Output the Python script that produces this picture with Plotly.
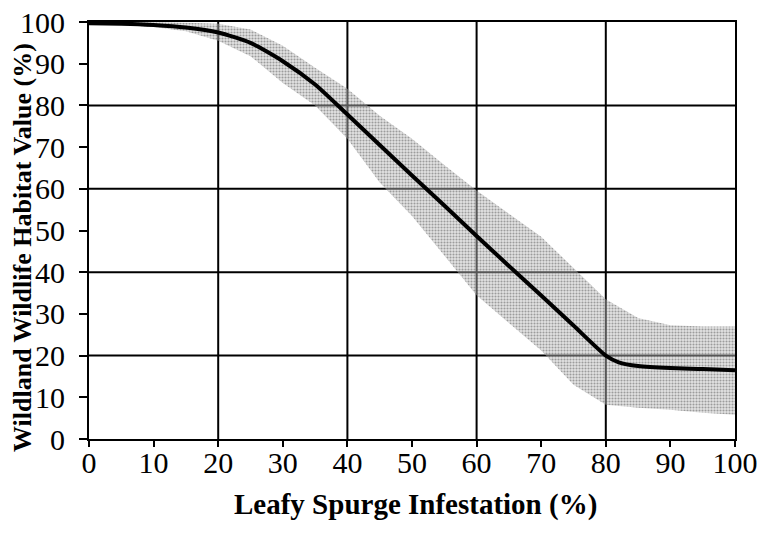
import plotly.graph_objects as go

# Leafy spurge infestation (%) -> habitat value (%)
infestation = [0, 5, 10, 15, 20, 25, 30, 35, 40, 45, 50, 55, 60, 65, 70, 75, 80, 82, 85, 90, 95, 100]
habitat_value = [99.7, 99.6, 99.3, 98.7, 97.5, 95.0, 90.6, 85.0, 77.8, 70.5, 63.2, 56.0, 48.7, 41.5, 34.4, 27.2, 20.0, 18.4, 17.5, 17.0, 16.8, 16.5]

band_x = [0, 5, 10, 15, 20, 25, 30, 35, 40, 45, 50, 55, 60, 65, 70, 75, 80, 85, 90, 95, 100]
band_upper = [100, 100, 100, 99.8, 99.6, 98.2, 94.3, 89.0, 84.0, 77.5, 72.0, 65.7, 59.6, 54.0, 48.5, 41.0, 33.5, 29.0, 27.3, 27.0, 27.0]
band_lower = [99.5, 99.3, 98.8, 97.8, 95.5, 91.8, 85.4, 80.0, 72.0, 61.5, 53.5, 44.0, 34.5, 27.8, 21.2, 13.0, 8.2, 7.5, 7.0, 6.3, 5.8]

x_ticks = [0, 10, 20, 30, 40, 50, 60, 70, 80, 90, 100]
y_ticks = [0, 10, 20, 30, 40, 50, 60, 70, 80, 90, 100]
grid_vals = [20, 40, 60, 80]

FONT = "Liberation Serif, Times New Roman, serif"

fig = go.Figure()

fig.add_trace(go.Scatter(
    x=band_x, y=band_lower, mode="lines", line=dict(width=0, color="rgba(0,0,0,0)"),
    hoverinfo="skip", showlegend=False))
fig.add_trace(go.Scatter(
    x=band_x, y=band_upper, mode="lines", line=dict(width=0, color="rgba(0,0,0,0)"),
    fill="tonexty", fillcolor="rgba(0,0,0,0)",
    fillpattern=dict(shape=".", fgcolor="#555555", bgcolor="rgba(190,190,190,0.45)", size=3, solidity=0.4),
    hoverinfo="skip", showlegend=False))
fig.add_trace(go.Scatter(
    x=infestation, y=habitat_value, mode="lines", line=dict(color="black", width=4, shape="spline", smoothing=0.6),
    showlegend=False))

shapes = []
for v in grid_vals:
    shapes.append(dict(type="line", xref="x", yref="y", x0=v, x1=v, y0=0, y1=100,
                       line=dict(color="black", width=2), layer="below"))
    shapes.append(dict(type="line", xref="x", yref="y", x0=0, x1=100, y0=v, y1=v,
                       line=dict(color="black", width=2), layer="below"))

fig.update_layout(
    width=757, height=540,
    margin=dict(l=89, r=22, t=22, b=101),
    paper_bgcolor="white", plot_bgcolor="white",
    font=dict(family=FONT, color="black"),
    shapes=shapes,
    xaxis=dict(range=[0, 100], tickvals=x_ticks, ticktext=[str(v) for v in x_ticks],
               showgrid=False, zeroline=False, showline=True, linecolor="black", linewidth=2,
               mirror=True, ticks="outside", ticklen=6, tickwidth=2, tickcolor="black", automargin=False,
               ticklabeloverflow="allow",
               tickfont=dict(family=FONT, size=30, color="black"), ticklabelstandoff=-10),
    yaxis=dict(range=[0, 100], tickvals=y_ticks, ticktext=[str(v) for v in y_ticks],
               showgrid=False, zeroline=False, showline=True, linecolor="black", linewidth=2,
               mirror=True, ticks="outside", ticklen=8, tickwidth=2, tickcolor="black", automargin=False,
               ticklabeloverflow="allow",
               tickfont=dict(family=FONT, size=30, color="black"), ticklabelstandoff=8),
    annotations=[
        dict(text="<b>Leafy Spurge Infestation (%)</b>", xref="paper", yref="paper",
             x=0.505, y=-0.158, showarrow=False, xanchor="center", yanchor="middle",
             font=dict(family=FONT, size=29, color="black")),
        dict(text="<b>Wildland Wildlife Habitat Value (%)</b>", xref="paper", yref="paper",
             x=-0.104, y=0.46, showarrow=False, xanchor="center", yanchor="middle", textangle=-90,
             font=dict(family=FONT, size=26, color="black")),
    ],
)

fig.write_html("out.html", config={"displayModeBar": False},
               post_script="document.body.style.margin='0';document.body.style.overflow='hidden';")
